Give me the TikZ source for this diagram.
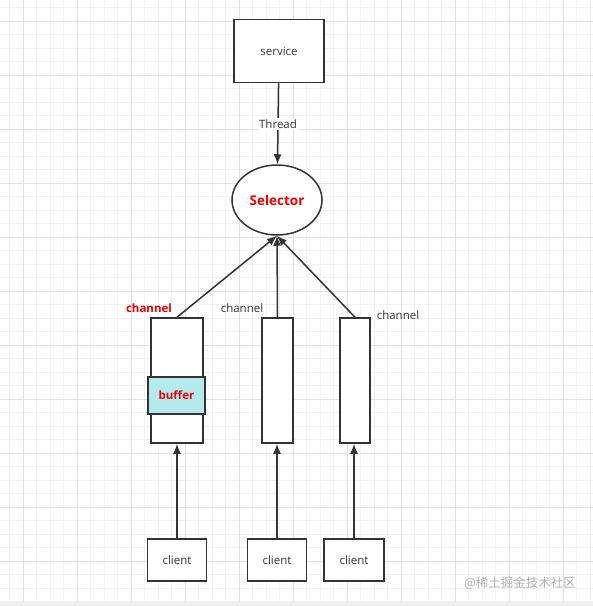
\documentclass[tikz,border=0pt]{standalone}
\usepackage{fontspec}
\setmainfont{Open Sans}
\newfontfamily\cjkfont{Noto Sans CJK SC}
\usetikzlibrary{arrows.meta,shapes.geometric}
\definecolor{edgegray}{RGB}{51,51,51}
\definecolor{bufcyan}{RGB}{180,234,238}
\definecolor{textred}{RGB}{235,0,0}
\definecolor{gridminor}{RGB}{242,242,242}
\definecolor{gridmajor}{RGB}{226,226,226}
\begin{document}
\begin{tikzpicture}[x=1pt,y=-1pt,
  every node/.style={font=\fontsize{11.5}{13}\selectfont,text=edgegray},
  box/.style={draw=edgegray,line width=1.5pt,fill=white,inner sep=0pt},
  chan/.style={box,minimum height=125},
  conn/.style={-{Latex[length=10pt,width=8pt]},line width=1.5pt,draw=edgegray},
  redlbl/.style={text=textred,font=\bfseries\fontsize{11.5}{13}\selectfont}]
\useasboundingbox (0,0) rectangle (593,606);
% background grid
\fill[white] (0,0) rectangle (593,606);
\foreach \i in {-1,...,42} {
  \draw[gridminor,line width=0.6pt] (23+\i*13.5,0) -- (23+\i*13.5,602);
}
\foreach \i in {-1,...,43} {
  \draw[gridminor,line width=0.6pt] (0,21+\i*13.5) -- (593,21+\i*13.5);
}
\foreach \i in {0,...,10} {
  \draw[gridmajor,line width=0.6pt] (23+\i*54,0) -- (23+\i*54,602);
  \draw[gridmajor,line width=0.6pt] (0,21+\i*54) -- (593,21+\i*54);
}
\fill[gray!12] (0,601.5) rectangle (593,606);

% nodes
\node[box,minimum width=90,minimum height=63] (service) at (279,51) {service};
\node[box,ellipse,minimum width=90,minimum height=70,redlbl,font=\bfseries\fontsize{13.5}{15}\selectfont] (selector) at (277,200) {Selector};
\node[chan,minimum width=52] (ch1) at (177,380.5) {};
\node[chan,minimum width=31] (ch2) at (277.5,380.5) {};
\node[chan,minimum width=30] (ch3) at (355,380.5) {};
\node[box,fill=bufcyan,minimum width=57,minimum height=37,redlbl] (buffer) at (176.5,395.5) {buffer};
\node[box,minimum width=59,minimum height=42] (c1) at (177,560) {client};
\node[box,minimum width=59,minimum height=42] (c2) at (277,560) {client};
\node[box,minimum width=60,minimum height=42] (c3) at (354,560) {client};
\node[redlbl] (lbl1) at (149,308) {channel};
\node (lbl2) at (242,308) {channel};
\node (lbl3) at (398,315) {channel};
\node[text=gray!60,font=\cjkfont\fontsize{12.5}{14}\selectfont] (mark) at (520,583) {@稀土掘金技术社区};

% connectors
\draw[conn] (service) -- (selector) node[midway,fill=white,inner sep=1.5pt] {Thread};
\draw[conn] (ch1.north) -- (selector.south);
\draw[conn] (ch2.north) -- (selector.south);
\draw[conn] (ch3.north) -- (selector.south);
\draw[conn] (c1) -- (ch1);
\draw[conn] (c2.north) -- (c2.north |- ch2.south);
\draw[conn] (c3.north) -- (c3.north |- ch3.south);
\end{tikzpicture}
\end{document}
